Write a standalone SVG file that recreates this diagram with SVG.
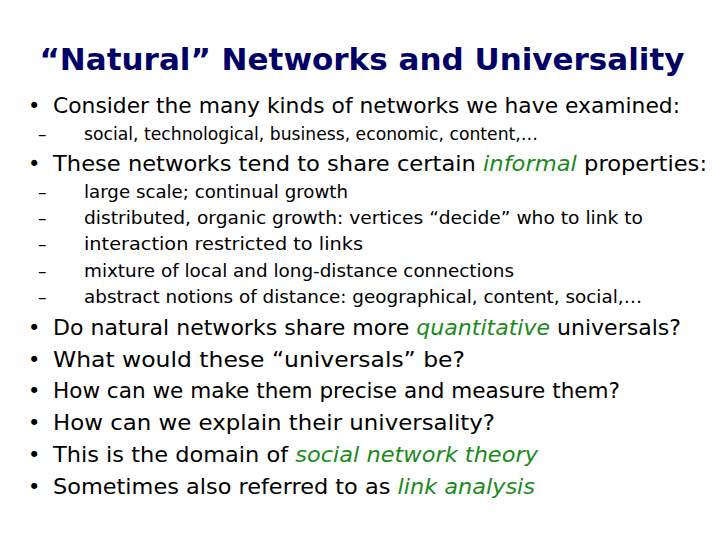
<svg xmlns="http://www.w3.org/2000/svg" width="720" height="540" viewBox="0 0 720 540">
<style>
text{font-family:"DejaVu Sans","Liberation Sans",sans-serif;fill:#000}
.t{font-size:31px;fill:#000066;font-weight:bold;text-anchor:middle}
.b{font-size:21px}
.s{font-size:17px}
.g{fill:#1a8a1a;font-style:italic}
</style>
<rect width="720" height="540" fill="#fff"/>
<g id="title"><text class="t" x="362" y="70">“Natural” Networks and Universality</text></g>
<g id="body">
<text class="b" x="28" y="113">•</text><text class="b" x="53" y="113" textLength="627" lengthAdjust="spacingAndGlyphs">Consider the many kinds of networks we have examined:</text>
<text class="s" x="38" y="140">–</text><text class="s" x="84" y="140" textLength="454" lengthAdjust="spacingAndGlyphs">social, technological, business, economic, content,…</text>
<text class="b" x="28" y="171">•</text><text class="b" x="53" y="171" textLength="654" lengthAdjust="spacingAndGlyphs">These networks tend to share certain <tspan class="g">informal</tspan> properties:</text>
<text class="s" x="38" y="198">–</text><text class="s" x="84" y="198" textLength="264" lengthAdjust="spacingAndGlyphs">large scale; continual growth</text>
<text class="s" x="38" y="224">–</text><text class="s" x="84" y="224" textLength="559" lengthAdjust="spacingAndGlyphs">distributed, organic growth: vertices “decide” who to link to</text>
<text class="s" x="38" y="250">–</text><text class="s" x="84" y="250" textLength="279" lengthAdjust="spacingAndGlyphs">interaction restricted to links</text>
<text class="s" x="38" y="277">–</text><text class="s" x="84" y="277" textLength="430" lengthAdjust="spacingAndGlyphs">mixture of local and long-distance connections</text>
<text class="s" x="38" y="303">–</text><text class="s" x="84" y="303" textLength="558" lengthAdjust="spacingAndGlyphs">abstract notions of distance: geographical, content, social,…</text>
<text class="b" x="28" y="335">•</text><text class="b" x="53" y="335" textLength="628" lengthAdjust="spacingAndGlyphs">Do natural networks share more <tspan class="g">quantitative</tspan> universals?</text>
<text class="b" x="28" y="367">•</text><text class="b" x="53" y="367" textLength="412" lengthAdjust="spacingAndGlyphs">What would these “universals” be?</text>
<text class="b" x="28" y="398">•</text><text class="b" x="53" y="398" textLength="567" lengthAdjust="spacingAndGlyphs">How can we make them precise and measure them?</text>
<text class="b" x="28" y="430">•</text><text class="b" x="53" y="430" textLength="442" lengthAdjust="spacingAndGlyphs">How can we explain their universality?</text>
<text class="b" x="28" y="462">•</text><text class="b" x="53" y="462" textLength="485" lengthAdjust="spacingAndGlyphs">This is the domain of <tspan class="g">social network theory</tspan></text>
<text class="b" x="28" y="494">•</text><text class="b" x="53" y="494" textLength="482" lengthAdjust="spacingAndGlyphs">Sometimes also referred to as <tspan class="g">link analysis</tspan></text>
</g>
</svg>
